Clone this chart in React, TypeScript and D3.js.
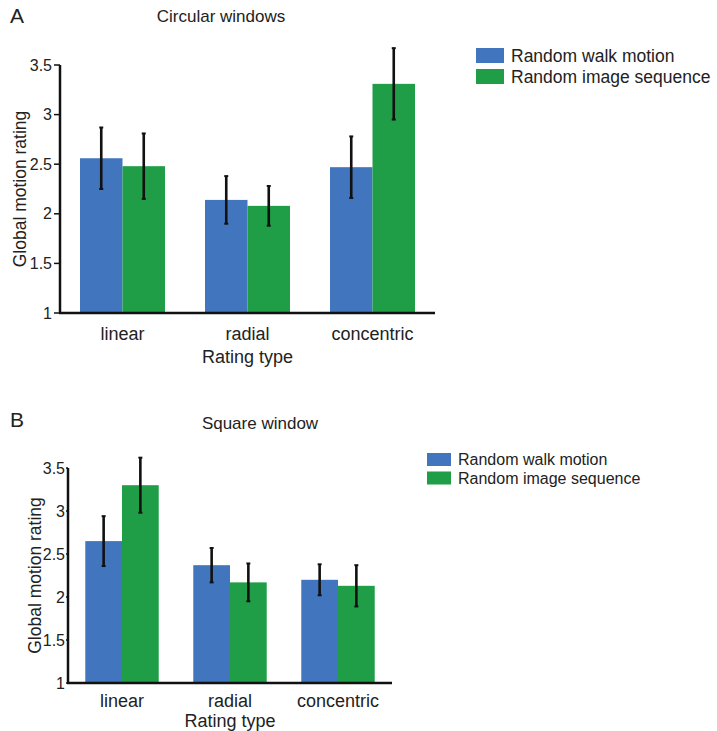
import React from 'react'
import * as d3 from 'd3'

const categories = ['linear', 'radial', 'concentric']
const seriesNames = ['Random walk motion', 'Random image sequence']
const seriesColors = ['#4176be', '#1f9e47']
const yTicks = [1, 1.5, 2, 2.5, 3, 3.5]

// panel A: circular windows
const circWalk = [2.56, 2.14, 2.47]
const circWalkErr = [0.31, 0.24, 0.31]
const circImage = [2.48, 2.08, 3.31]
const circImageErr = [0.33, 0.2, 0.36]

// panel B: square window
const sqWalk = [2.65, 2.37, 2.2]
const sqWalkErr = [0.29, 0.2, 0.18]
const sqImage = [3.3, 2.17, 2.13]
const sqImageErr = [0.32, 0.22, 0.24]

const FONT = '"Liberation Sans", Arial, sans-serif'
const TEXT = '#222'

type PanelProps = {
  letter: string
  title: string
  values: number[][]
  errors: number[][]
  x0: number
  x1: number
  yTop: number
  yBottom: number
  letterY: number
  titleX: number
  titleY: number
  yLabelX: number
  tickSize: number
  tickPad: number
  catY: number
  ratingY: number
  legendX: number
  legendY: number
  legendW: number
  legendH: number
  legendGap: number
  legendFont: number
}

const Panel = (p: PanelProps) => {
  const x = d3.scaleBand<string>().domain(categories).range([p.x0, p.x1]).paddingInner(0.32).paddingOuter(0.16)
  const xs = d3.scaleBand<number>().domain([0, 1]).range([0, x.bandwidth()])
  const y = d3.scaleLinear().domain([1, 3.5]).range([p.yBottom, p.yTop])
  const mid = (y.range()[0] + y.range()[1]) / 2

  return (
    <g>
      <text x={10} y={p.letterY} fontSize={21} fill={TEXT} fontFamily={FONT}>{p.letter}</text>
      <text x={p.titleX} y={p.titleY} fontSize={17} fill={TEXT} textAnchor="middle" fontFamily={FONT}>{p.title}</text>

      {categories.map((c, i) =>
        p.values.map((vals, s) => {
          const bx = (x(c) ?? 0) + (xs(s) ?? 0)
          const cx = bx + xs.bandwidth() / 2
          const v = vals[i]
          const e = p.errors[s][i]
          return (
            <g key={c + s}>
              <rect x={bx} y={y(v)} width={xs.bandwidth()} height={y(1) - y(v)} fill={seriesColors[s]} />
              <line x1={cx} x2={cx} y1={y(v + e)} y2={y(v - e)} stroke="#111" strokeWidth={2.6} />
              <line x1={cx - 2} x2={cx + 2} y1={y(v + e)} y2={y(v + e)} stroke="#111" strokeWidth={2} />
              <line x1={cx - 2} x2={cx + 2} y1={y(v - e)} y2={y(v - e)} stroke="#111" strokeWidth={2} />
            </g>
          )
        })
      )}

      {/* axes */}
      <line x1={p.x0} x2={p.x0} y1={y(3.5)} y2={y(1)} stroke="#111" strokeWidth={2.5} />
      <line x1={p.x0 - 1} x2={p.x1} y1={y(1)} y2={y(1)} stroke="#111" strokeWidth={2.5} />
      {yTicks.map((t) => (
        <g key={t}>
          <line x1={p.x0 - p.tickSize} x2={p.x0} y1={y(t)} y2={y(t)} stroke="#111" strokeWidth={1.5} />
          <text x={p.x0 - p.tickSize - p.tickPad} y={y(t)} dy="0.35em" textAnchor="end" fontSize={16} fill={TEXT} fontFamily={FONT}>
            {t}
          </text>
        </g>
      ))}
      {categories.map((c) => (
        <text key={c} x={(x(c) ?? 0) + x.bandwidth() / 2} y={p.catY} textAnchor="middle" fontSize={18} fill={TEXT} fontFamily={FONT}>
          {c}
        </text>
      ))}
      <text x={x('radial')! + x.bandwidth() / 2} y={p.ratingY} textAnchor="middle" fontSize={18} fill={TEXT} fontFamily={FONT}>
        Rating type
      </text>
      <text
        transform={`translate(${p.yLabelX},${mid}) rotate(-90)`}
        textAnchor="middle"
        fontSize={17.5}
        fill={TEXT}
        fontFamily={FONT}
      >
        Global motion rating
      </text>

      {/* legend */}
      {seriesNames.map((n, s) => (
        <g key={n} transform={`translate(${p.legendX},${p.legendY + s * p.legendGap})`}>
          <rect x={0} y={0} width={p.legendW} height={p.legendH} fill={seriesColors[s]} />
          <text x={p.legendW + 7} y={p.legendH / 2} dy="0.35em" fontSize={p.legendFont} fill={TEXT} fontFamily={FONT}>
            {n}
          </text>
        </g>
      ))}
    </g>
  )
}

const App = () => {
  return (
    <svg width={717} height={731} style={{ position: 'absolute', left: 0, top: 0, background: '#fff' }}>
      <Panel
        letter="A"
        title="Circular windows"
        values={[circWalk, circImage]}
        errors={[circWalkErr, circImageErr]}
        x0={60}
        x1={435}
        yTop={65}
        yBottom={313}
        letterY={23}
        titleX={221}
        titleY={22}
        yLabelX={26}
        tickSize={6}
        tickPad={2}
        catY={340}
        ratingY={363}
        legendX={476}
        legendY={48}
        legendW={28}
        legendH={15}
        legendGap={21}
        legendFont={17.5}
      />
      <Panel
        letter="B"
        title="Square window"
        values={[sqWalk, sqImage]}
        errors={[sqWalkErr, sqImageErr]}
        x0={68}
        x1={392}
        yTop={468}
        yBottom={683}
        letterY={427}
        titleX={260}
        titleY={429}
        yLabelX={41}
        tickSize={2}
        tickPad={1}
        catY={707}
        ratingY={727}
        legendX={427}
        legendY={453}
        legendW={24}
        legendH={13}
        legendGap={18.5}
        legendFont={16}
      />
    </svg>
  )
}

export default App
